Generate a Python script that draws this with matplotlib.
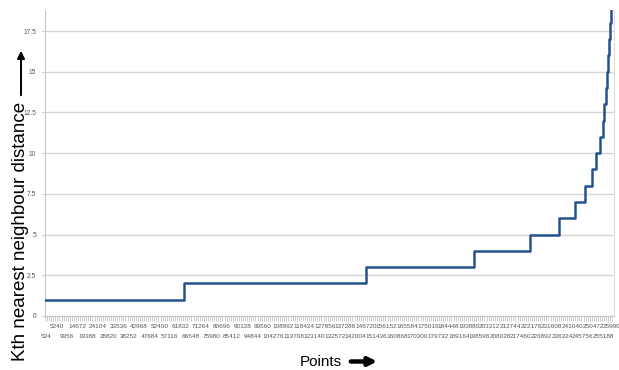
import matplotlib.pyplot as plt
import numpy as np

# sorted k-distance: level value and the point index where that level starts
levels = [1, 2, 3, 4, 5, 6, 7, 8, 9, 10, 11, 12, 13, 14, 15, 16, 17, 18, 19, 20]
level_starts = [0, 63400, 146700, 196200, 221800, 235000, 242350, 246800, 250000, 252100,
                253800, 254900, 255600, 256400, 256800, 257400, 257900, 258300, 258700, 259000]
n_points = 260000

xtick_vals = [524, 5240, 9956, 14672, 19388, 24104, 28820, 33536, 38252, 42968, 47684,
              52400, 57116, 61832, 66548, 71264, 75980, 80696, 85412, 90128, 94844, 99560,
              104276, 108992, 113708, 118424, 123140, 127856, 132572, 137288, 142004, 146720,
              151436, 156152, 160868, 165584, 170300, 175016, 179732, 184448, 189164, 193880,
              198596, 203312, 208028, 212744, 217460, 222176, 226892, 231608, 236324, 241040,
              245756, 250472, 255188, 259904]
ytick_vals = [0, 2.5, 5, 7.5, 10, 12.5, 15, 17.5]
ytick_labels = ['0', '2.5', '5', '7.5', '10', '12.5', '15', '17.5']

narrow = ['Liberation Sans Narrow', 'Liberation Sans', 'DejaVu Sans']

fig = plt.figure(figsize=(6.19, 3.70), dpi=100)
ax = fig.add_axes([45/619, 1 - 316/370, (614-45)/619, (316-10)/370])

xs = level_starts + [n_points]
ys = levels + [levels[-1]]
ax.step(xs, ys, where='post', color='#24528f', lw=1.8, zorder=3)

ax.set_xlim(0, 260100)
ax.set_ylim(0, 18.79)

ax.set_yticks(ytick_vals)
ax.set_yticklabels(ytick_labels, family=narrow, fontsize=4.8, color='#555555')
ax.tick_params(axis='y', length=2.5, width=0.8, color='#cccccc', pad=4)
ax.yaxis.grid(True, color='#d6d6d6', lw=1.0)
ax.set_axisbelow(True)

labels = []
for i, v in enumerate(xtick_vals):
    labels.append(('\n' + str(v)) if i % 2 == 0 else str(v))
ax.set_xticks(xtick_vals)
ax.set_xticklabels(labels, family=narrow, fontsize=4.6, color='#555555')
for t in ax.get_xticklabels():
    t.set_linespacing(2.3)
ax.tick_params(axis='x', which='major', length=0, pad=5.5)
ax.set_xticks(np.arange(0, 260100, 943.2), minor=True)
ax.tick_params(axis='x', which='minor', length=3.5, width=0.6, color='#c4c4c4')

ax.spines['top'].set_visible(False)
ax.spines['left'].set_color('#c8c8c8')
ax.spines['bottom'].set_color('#c8c8c8')
ax.spines['right'].set_color('#dcdcdc')

fig.text(21/619, 1 - 231/370, 'Kth nearest neighbour distance', rotation=90,
         ha='center', va='center', fontsize=13.5, family='Liberation Sans')
ax.annotate('', xy=(21/619, 1 - 48/370), xytext=(21/619, 1 - 98/370),
            xycoords='figure fraction', textcoords='figure fraction',
            arrowprops=dict(arrowstyle='-|>', color='black', lw=1.4, mutation_scale=11))

fig.text(320.5/619, 1 - 361.5/370, 'Points', ha='center', va='center',
         fontsize=11, family=narrow)
ax.annotate('', xy=(380/619, 1 - 361.5/370), xytext=(348/619, 1 - 361.5/370),
            xycoords='figure fraction', textcoords='figure fraction',
            arrowprops=dict(arrowstyle='-|>', color='black', lw=3.2, mutation_scale=12))

fig.savefig('out.png', dpi=100)
